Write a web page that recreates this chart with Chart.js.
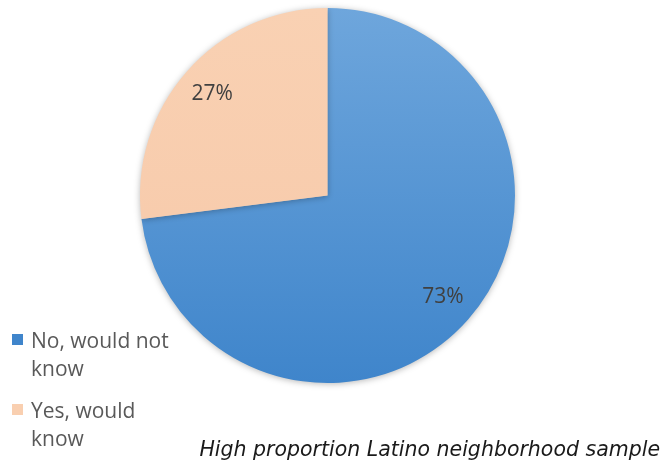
<!DOCTYPE html>
<html>
<head>
<meta charset="utf-8">
<script src="https://cdn.jsdelivr.net/npm/chart.js@4.4.1/dist/chart.umd.min.js"></script>
<style>
  html, body { margin: 0; padding: 0; background: #fff; }
  #wrap { width: 665px; height: 469px; position: relative; }
</style>
</head>
<body>
<div id="wrap"><canvas id="chart" width="665" height="469"></canvas></div>
<script>
// Daten
const labels = ['No, would not know', 'Yes, would know'];
const legendLines = [['No, would not', 'know'], ['Yes, would', 'know']];
const werte = [73, 27];
const titel = 'High proportion Latino neighborhood sample';

const farbenOben = ['#6ea6dc', '#f9d1b3'];
const farbenUnten = ['#3f85cb', '#f7c8a8'];

function verlauf(context) {
  const chart = context.chart;
  const area = chart.chartArea;
  if (!area) return farbenUnten[context.dataIndex];
  const g = chart.ctx.createLinearGradient(0, area.top, 0, area.bottom);
  g.addColorStop(0, farbenOben[context.dataIndex]);
  g.addColorStop(1, farbenUnten[context.dataIndex]);
  return g;
}

// Prozentwerte in die Segmente schreiben
const prozentPlugin = {
  id: 'prozent',
  afterDatasetsDraw(chart) {
    const ctx = chart.ctx;
    const meta = chart.getDatasetMeta(0);
    ctx.save();
    ctx.font = '21px "Open Sans", sans-serif';
    ctx.fillStyle = '#404040';
    ctx.textAlign = 'center';
    ctx.textBaseline = 'middle';
    meta.data.forEach((arc, i) => {
      const p = arc.getProps(['x', 'y', 'startAngle', 'endAngle', 'outerRadius']);
      const mitte = (p.startAngle + p.endAngle) / 2;
      const r = p.outerRadius * 0.82;
      ctx.fillText(werte[i] + '%', p.x + Math.cos(mitte) * r, p.y + Math.sin(mitte) * r);
    });
    ctx.restore();
  }
};

// Legende links unten und Titel rechts unten
const legendePlugin = {
  id: 'legende',
  afterDraw(chart) {
    const ctx = chart.ctx;
    ctx.save();
    ctx.textBaseline = 'alphabetic';
    ctx.textAlign = 'left';
    const startY = [348, 418];
    legendLines.forEach((zeilen, i) => {
      ctx.fillStyle = farbenUnten[i];
      if (i === 1) ctx.fillStyle = '#f9cfb0';
      ctx.fillRect(12, startY[i] - 14, 11, 11);
      ctx.font = '21px "Open Sans", sans-serif';
      ctx.fillStyle = '#595959';
      zeilen.forEach((z, j) => {
        ctx.fillText(z, 31, startY[i] + j * 28);
      });
    });
    ctx.font = 'italic 20.5px "DejaVu Sans", sans-serif';
    ctx.fillStyle = '#1a1a1a';
    ctx.textAlign = 'right';
    ctx.fillText(titel, 660, 456);
    ctx.restore();
  }
};

// Schatten hinter dem Kreis
const schattenPlugin = {
  id: 'schatten',
  beforeDatasetsDraw(chart) {
    const ctx = chart.ctx;
    ctx.save();
    ctx.shadowColor = 'rgba(0,0,0,0.28)';
    ctx.shadowBlur = 6;
    ctx.shadowOffsetY = 1;
  },
  afterDatasetsDraw(chart) {
    chart.ctx.restore();
  }
};

new Chart(document.getElementById('chart'), {
  type: 'pie',
  data: {
    labels: labels,
    datasets: [{
      data: werte,
      backgroundColor: verlauf,
      borderWidth: 0
    }]
  },
  options: {
    responsive: false,
    animation: false,
    layout: { padding: { top: 8, bottom: 86, left: 140, right: 150 } },
    plugins: {
      legend: { display: false },
      title: { display: false },
      tooltip: { enabled: false }
    }
  },
  plugins: [schattenPlugin, prozentPlugin, legendePlugin]
});
</script>
</body>
</html>
